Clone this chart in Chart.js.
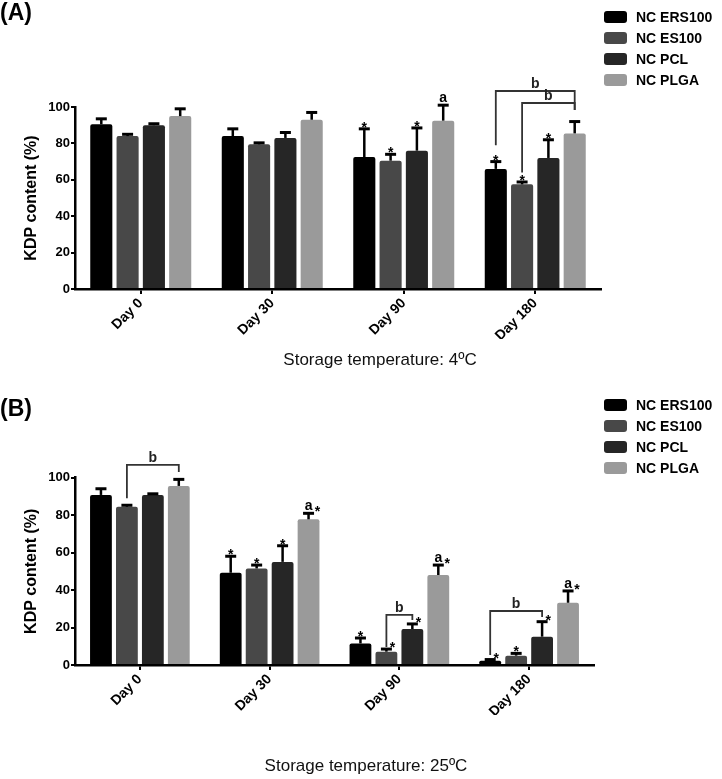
<!DOCTYPE html>
<html>
<head>
<meta charset="utf-8">
<script src="https://cdn.jsdelivr.net/npm/chart.js@4.4.1/dist/chart.umd.min.js"></script>
<style>
  body { margin: 0; background: #fff; width: 722px; height: 779px; position: relative; overflow: hidden; }
  .panel { position: absolute; left: 0; width: 722px; }
  #wrapA { top: 0; height: 380px; }
  #wrapB { top: 380px; height: 399px; }
</style>
</head>
<body>
<div class="panel" id="wrapA"><canvas id="chartA"></canvas></div>
<div class="panel" id="wrapB"><canvas id="chartB"></canvas></div>
<script>
const days = ['Day 0', 'Day 30', 'Day 90', 'Day 180'];
const seriesNames = ['NC ERS100', 'NC ES100', 'NC PCL', 'NC PLGA'];
const seriesColors = ['#000000', '#484848', '#262626', '#9a9a9a'];
const yTicks = [0, 20, 40, 60, 80, 100];

// (A) storage at 4 ºC : mean and SD
const a_ers100 = [90.5, 84, 72.5, 66];
const a_es100  = [84, 79.5, 70.5, 57.5];
const a_pcl    = [90, 83, 76, 72];
const a_plga   = [95, 93, 92.5, 85.5];
const a_ers100_sd = [3, 4, 15.5, 4];
const a_es100_sd  = [1, 0.8, 3.5, 1.3];
const a_pcl_sd    = [0.8, 3, 12.5, 10];
const a_plga_sd   = [4, 4, 8.5, 6.5];
const a_marks = [
  ['', '', '*', '*'],
  ['', '', '*', '*'],
  ['', '', '*', '*'],
  ['', '', 'a', '']
];
// [day, from series, to series, bracket level, left leg end, right leg end]
const a_brackets = [
  [3, 0, 3, 108.8, 79, 98.4],
  [3, 1, 3, 102.2, 64, 98.4]
];

// (B) storage at 25 ºC
const b_ers100 = [90.7, 49.2, 11.5, 2.3];
const b_es100  = [84.4, 51.5, 7.1, 5];
const b_pcl    = [90.7, 55, 19.2, 15.1];
const b_plga   = [95.5, 77.7, 48, 33.2];
const b_ers100_sd = [3.3, 8.8, 2.9, 0.6];
const b_es100_sd  = [0.8, 1.8, 1.4, 1.2];
const b_pcl_sd    = [0.6, 8.6, 2.7, 8];
const b_plga_sd   = [3.5, 3.2, 5.3, 6.3];
const b_marks = [
  ['', '*', '*', '*'],
  ['', '*', '*', '*'],
  ['', '*', '*', '*'],
  ['', 'a*', 'a*', 'a*']
];
const b_brackets = [
  [0, 1, 3, 106.7, 89, 103],
  [2, 1, 2, 26.7, 9.6, 24],
  [3, 0, 2, 28.8, 5.3, 25.6]
];

const FONT = "'Liberation Sans', Arial, sans-serif";

const overlay = {
  id: 'overlay',
  afterDatasetsDraw(chart, args, opts) {
    const ctx = chart.ctx;
    const y = chart.scales.y;
    ctx.save();
    const ends = {};
    opts.brackets.forEach(b => { ends[b[1] + '_' + b[0]] = 1; ends[b[2] + '_' + b[0]] = 1; });

    chart.data.datasets.forEach((ds, i) => {
      const meta = chart.getDatasetMeta(i);
      meta.data.forEach((bar, j) => {
        const top = y.getPixelForValue(ds.data[j] + opts.errors[i][j]);
        ctx.strokeStyle = '#000';
        ctx.lineWidth = 2.5;
        ctx.beginPath(); ctx.moveTo(bar.x, bar.y); ctx.lineTo(bar.x, top); ctx.stroke();
        ctx.lineWidth = 3;
        ctx.beginPath(); ctx.moveTo(bar.x - 5.5, top); ctx.lineTo(bar.x + 5.5, top); ctx.stroke();

        const mark = opts.marks[i][j];
        if (!mark) return;
        ctx.fillStyle = '#000';
        ctx.textAlign = 'center';
        ctx.textBaseline = 'alphabetic';
        let sx = bar.x + (ends[i + '_' + j] ? opts.starShift : 0);
        if (mark.startsWith('a')) {
          ctx.font = 'bold 14px ' + FONT;
          ctx.fillText('a', bar.x, top - 3);
          sx = bar.x + 9;
        }
        if (mark.endsWith('*')) {
          ctx.font = 'bold 14px ' + FONT;
          ctx.fillText('*', sx, top + 3);
        }
      });
    });

    // significance brackets
    ctx.strokeStyle = '#333';
    ctx.lineWidth = 1.8;
    opts.brackets.forEach(([d, s1, s2, lvl, e1, e2]) => {
      const x1 = chart.getDatasetMeta(s1).data[d].x;
      const x2 = chart.getDatasetMeta(s2).data[d].x;
      const yl = y.getPixelForValue(lvl);
      ctx.beginPath();
      ctx.moveTo(x1, y.getPixelForValue(e1));
      ctx.lineTo(x1, yl);
      ctx.lineTo(x2, yl);
      ctx.lineTo(x2, y.getPixelForValue(e2));
      ctx.stroke();
      ctx.fillStyle = '#222';
      ctx.font = 'bold 14px ' + FONT;
      ctx.textAlign = 'center';
      ctx.textBaseline = 'alphabetic';
      ctx.fillText('b', (x1 + x2) / 2, yl - 3);
    });
    ctx.restore();
  },
  afterDraw(chart, args, opts) {
    const ctx = chart.ctx;
    ctx.save();
    ctx.fillStyle = '#000';
    ctx.textBaseline = 'top';
    ctx.textAlign = 'left';
    ctx.font = 'bold 23px ' + FONT;
    ctx.fillText(opts.panel, 0, opts.panelTop);

    // legend
    chart.data.datasets.forEach((ds, i) => {
      const cy = opts.legendTop + i * 21;
      ctx.fillStyle = ds.backgroundColor;
      ctx.beginPath();
      ctx.roundRect(604, cy - 6, 23, 12, 3);
      ctx.fill();
      ctx.fillStyle = '#000';
      ctx.font = 'bold 14px ' + FONT;
      ctx.textBaseline = 'middle';
      ctx.fillText(ds.label, 636, cy + 1);
    });

    // x axis caption
    ctx.font = '17px ' + FONT;
    ctx.textAlign = 'center';
    ctx.textBaseline = 'middle';
    ctx.fillStyle = '#111';
    ctx.fillText(opts.caption, opts.captionX, opts.captionY);
    ctx.restore();
  }
};

function makeChart(id, values, errors, marks, brackets, box, extra) {
  return new Chart(document.getElementById(id), {
    type: 'bar',
    data: {
      labels: days,
      datasets: seriesNames.map((name, i) => ({
        label: name,
        data: values[i],
        backgroundColor: seriesColors[i],
        borderRadius: 2,
        categoryPercentage: 0.8,
        barPercentage: 0.84
      }))
    },
    options: {
      responsive: true,
      maintainAspectRatio: false,
      animation: false,
      layout: {
        padding: { top: box.top, left: 0, right: 722 - box.right, bottom: box.h - box.bottom - 50 }
      },
      scales: {
        x: {
          grid: { drawOnChartArea: false, drawTicks: true, tickLength: 5, offset: false, color: '#000', lineWidth: 2 },
          border: { display: true, color: '#000', width: 2.5 },
          ticks: { color: '#000', font: { family: FONT, size: 14, weight: 'bold' }, minRotation: 45, maxRotation: 45, padding: 1 },
          afterFit: s => { s.height = 50; }
        },
        y: {
          min: 0,
          max: 100,
          afterBuildTicks: s => { s.ticks = yTicks.map(v => ({ value: v })); },
          grid: { drawOnChartArea: false, drawTicks: true, tickLength: 4, color: '#000', lineWidth: 2 },
          border: { display: true, color: '#000', width: 2.5 },
          ticks: { color: '#000', font: { family: FONT, size: 13, weight: 'bold' }, padding: 1 },
          title: { display: true, text: 'KDP content (%)', color: '#000', font: { family: FONT, size: 16, weight: 'bold' }, padding: { top: 22, bottom: 0 } },
          afterFit: s => { s.width = box.left; }
        }
      },
      plugins: {
        legend: { display: false },
        tooltip: { enabled: false },
        overlay: Object.assign({ errors, marks, brackets }, extra)
      }
    },
    plugins: [overlay]
  });
}

makeChart('chartA',
  [a_ers100, a_es100, a_pcl, a_plga],
  [a_ers100_sd, a_es100_sd, a_pcl_sd, a_plga_sd],
  a_marks, a_brackets,
  { top: 107, bottom: 289, left: 75, right: 601, h: 380 },
  { starShift: 0, panel: '(A)', panelTop: 2, legendTop: 17, caption: 'Storage temperature: 4ºC', captionX: 380, captionY: 360 });

makeChart('chartB',
  [b_ers100, b_es100, b_pcl, b_plga],
  [b_ers100_sd, b_es100_sd, b_pcl_sd, b_plga_sd],
  b_marks, b_brackets,
  { top: 97.5, bottom: 285, left: 75, right: 594, h: 399 },
  { starShift: 6, panel: '(B)', panelTop: 18, legendTop: 25, caption: 'Storage temperature: 25ºC', captionX: 366, captionY: 386 });
</script>
</body>
</html>
